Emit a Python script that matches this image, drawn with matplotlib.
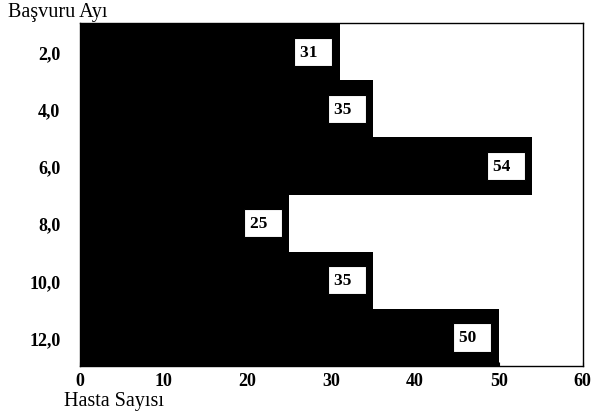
import matplotlib
matplotlib.use("Agg")
import matplotlib.pyplot as plt

# data
months = ["2,0", "4,0", "6,0", "8,0", "10,0", "12,0"]
patients = [31, 35, 54, 25, 35, 50]

plt.rcParams["font.family"] = ["Liberation Serif", "DejaVu Serif"]

fig = plt.figure(figsize=(5.92, 4.14), dpi=100)
ax = fig.add_axes([0.135, 0.1135, 0.849, 0.8285])

ypos = list(range(len(months)))
ax.barh(ypos, patients, height=1.0, color="black", edgecolor="black", linewidth=0)

# value boxes near bar ends
for y, v in zip(ypos, patients):
    ax.text(v - 1.6, y, str(v) + "  ", ha="right", va="center", fontsize=12.5, fontweight="bold",
            bbox=dict(boxstyle="square,pad=0.35", facecolor="white", edgecolor="black", linewidth=0.8))

ax.set_xlim(0, 60)
ax.set_ylim(len(months) - 0.5, -0.5)
ax.set_xticks([0, 10, 20, 30, 40, 50, 60])
ax.set_yticks(ypos)
ax.set_yticklabels(months)
ax.tick_params(axis="y", length=0, pad=14, labelsize=13)
ax.tick_params(axis="x", length=3, direction="in", labelsize=13, pad=4)
for lab in ax.get_xticklabels() + ax.get_yticklabels():
    lab.set_fontweight("bold")
for s in ax.spines.values():
    s.set_linewidth(1.0)

fig.text(8 / 592, 1 - 13 / 414, "Başvuru Ayı", fontsize=14.5, ha="left", va="center")
fig.text(64 / 592, 1 - 402 / 414, "Hasta Sayısı", fontsize=14.5, ha="left", va="center")

fig.savefig("out.png", dpi=100)
